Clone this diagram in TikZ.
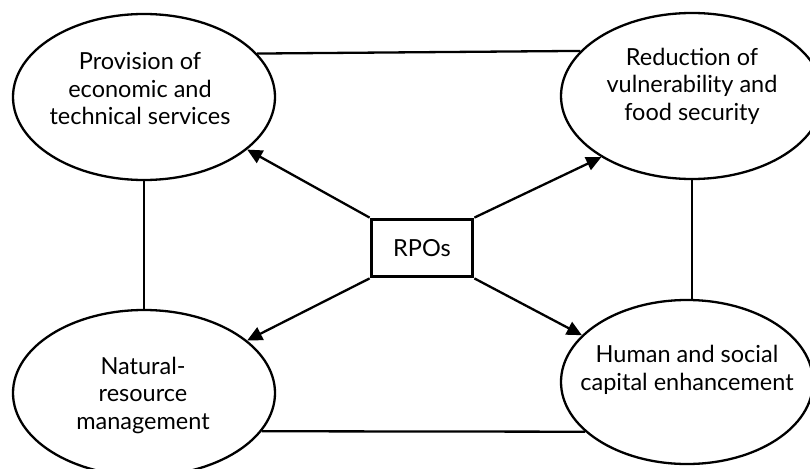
\documentclass[tikz,border=0pt]{standalone}
\usepackage{fontspec}
\setmainfont{Lato}
\usetikzlibrary{shapes.geometric,arrows.meta}
\begin{document}
\begin{tikzpicture}[x=1pt,y=-1pt,
  oval/.style={draw,ellipse,line width=2.3pt,fill=white,inner sep=0pt},
  lbl/.style={align=center,font=\fontsize{23.5}{27.5}\selectfont,inner sep=0pt},
  link/.style={line width=2.3pt},
  arr/.style={line width=2.3pt,-{Triangle[length=15pt,width=14pt]}},
  hub/.style={draw,line width=3.8pt,minimum width=101pt,minimum height=57pt,inner sep=0pt,font=\fontsize{23.5}{27.5}\selectfont}]
\useasboundingbox (0,0) rectangle (810,468);
\clip (0,0) rectangle (810,468);
\fill[white] (0,0) rectangle (810,468);
\node[oval,minimum width=262pt,minimum height=166pt] (e1) at (144,97) {};
\node[oval,minimum width=262pt,minimum height=166pt] (e2) at (692,96) {};
\node[oval,minimum width=262pt,minimum height=166pt] (e3) at (144,393) {};
\node[oval,minimum width=252pt,minimum height=164pt] (e4) at (687,382) {};
\node[lbl] (t1) at (140,89) {Provision of\\economic and\\technical services};
\node[lbl] (t2) at (692,86) {Reduction of\\vulnerability and\\food security};
\node[lbl] (t3) at (143,395) {Natural-\\resource\\management};
\node[lbl] (t4) at (687,370) {Human and social\\capital enhancement};
\node[hub] (r) at (422,248) {RPOs};
\draw[link] (e1.21.6) -- (e2.158.9);
\draw[link] (e1.south) -- (e3.north);
\draw[link] (e2.south) -- (e2.south |- e4.north);
\draw[link] (e3.-18.1) -- (e4.-154.1);
\draw[arr] (r.north west) -- (e1.-27);
\draw[arr] (r.north east) -- (e2.-146);
\draw[arr] (r.south west) -- (e3.27);
\draw[arr] (r.south east) -- (e4.156.7);
\end{tikzpicture}
\end{document}
